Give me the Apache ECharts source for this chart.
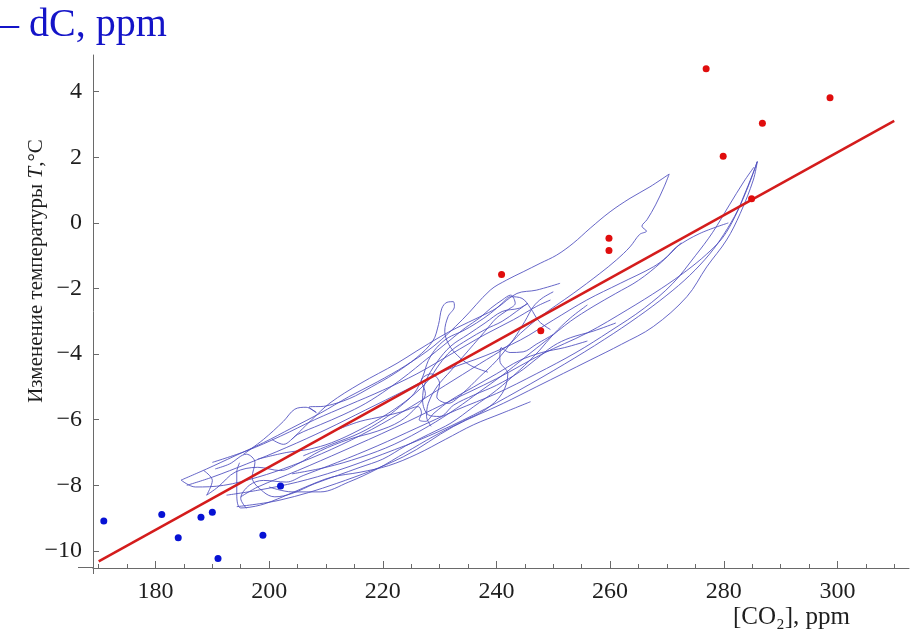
<!DOCTYPE html>
<html><head><meta charset="utf-8">
<script src="https://cdn.jsdelivr.net/npm/echarts@6/dist/echarts.min.js"></script>
<style>html,body{margin:0;padding:0;background:#fff}#c{width:910px;height:633px}</style>
</head><body><div id="c"></div>
<script>
var xTicks = [180, 200, 220, 240, 260, 280, 300];
var xMinorTicks = [170,175,185,190,195,205,210,215,225,230,235,245,250,255,265,270,275,285,290,295,305,310];
var yTicks = [-10, -8, -6, -4, -2, 0, 2, 4];

var redPoints = [[276.9,4.70],[298.7,3.82],[286.8,3.04],[279.9,2.03],[284.9,0.74],[259.8,-0.47],[259.8,-0.84],[240.9,-1.57],[247.8,-3.29]];
var bluePoints = [[170.9,-9.09],[181.1,-8.89],[184.0,-9.60],[188.0,-8.97],[190.0,-8.82],[191.0,-10.23],[198.9,-9.52],[202.0,-8.02]];
var fitLine = [[170,-10.32],[310,3.11]];

var strand1 = [[184.5,-7.84],[189,-7.5],[194,-7.1],[199,-6.7],[204,-6.25],[209,-5.8],[214,-5.3],[219,-4.85],[224,-4.35],[229,-3.75],[234,-2.95],[238.9,-2.05],[241.8,-1.74],[244.7,-1.49],[247.7,-1.23],[250.6,-0.98],[253.5,-0.62],[256.5,-0.16],[260,0.34],[263.5,0.75],[267,1.1],[270.4,1.49],[269.5,1.1],[268,0.55],[266.5,0.1],[265.6,-0.1],[266.4,-0.25],[265.2,-0.35],[263.5,-0.73],[261.1,-1.13],[258.2,-1.54],[253.5,-2.15],[247.7,-2.86],[244.2,-3.37],[241.8,-3.77],[237,-4.3],[231,-4.95],[225,-5.6],[218,-6.3],[211,-6.9],[204,-7.4],[198,-7.75],[192,-8.0],[187,-8.05],[184.5,-7.84]];
var strand2 = [[185.5,-8.0],[190,-7.75],[196,-7.35],[203,-6.85],[210,-6.3],[217,-5.7],[224,-5.1],[231,-4.5],[238,-4.05],[244.2,-3.57],[250,-2.96],[255.9,-2.35],[261.8,-1.84],[267.6,-1.34],[270,-1.03],[271.7,-0.73],[275.8,-0.32],[280.8,0.0]];
var strand3 = [[194.3,-8.65],[201.9,-8.45],[211.9,-7.94],[223.6,-7.13],[232.4,-6.21],[241.2,-5.5],[247.1,-4.99],[256.5,-4.18],[262,-3.7],[267.6,-3.16],[273.5,-2.25],[277,-1.34],[280.5,-0.52],[282.9,0.29],[285.2,1.31],[285.9,1.87],[285,1.45],[283.6,0.85],[282,0.2],[279.8,-0.45],[277,-0.95],[273.5,-1.45],[269,-2.0],[263,-2.65],[256,-3.35],[248,-4.0],[240,-4.75],[231,-5.5],[222,-6.25],[213,-6.95],[205,-7.55],[198,-8.05],[195,-8.35]];
var strand4 = [[204,-6.6],[207.5,-6.0],[210.7,-5.49],[216,-4.9],[222.5,-4.28],[226,-3.9],[230.1,-3.47],[233,-3.2],[237.1,-2.86],[240,-2.6],[243.6,-2.15],[247,-2.05],[251.2,-1.84]];
var strand5 = [[195.5,-7.05],[199,-6.6],[202.5,-6.05],[204.5,-5.68],[206.5,-5.62],[208.3,-5.78],[207,-5.62],[210,-5.58],[214.2,-5.35],[218,-5.0],[222,-4.6],[226,-4.1],[228.8,-3.6],[229.8,-3.1],[230.4,-2.6],[231.3,-2.42],[232.4,-2.4],[232.6,-2.55],[231.5,-2.85],[230.9,-3.3],[231.6,-3.7],[233.2,-4.05],[235.5,-4.35],[238.5,-4.55]];
var strand6 = [[192.5,-8.3],[198,-8.15],[205,-7.9],[212,-7.55],[220,-7.05],[228,-6.5],[236,-5.85],[244,-5.1],[252,-4.3],[259,-3.55],[265,-2.85],[270,-2.2],[274,-1.6],[277.5,-0.95],[280,-0.35],[282.5,0.4],[284.5,1.2],[285.9,1.87]];
var strand7 = [[196,-8.7],[195,-8.4],[196.5,-8.0],[199,-7.85],[203,-7.9],[206,-7.7],[212,-7.3],[219,-6.8],[226,-6.25],[233,-5.7],[240,-5.2],[247,-4.6],[254,-3.95],[260,-3.3],[266,-2.6],[271,-1.85],[275,-1.0],[278,-0.3],[281,0.55],[283.5,1.25],[285.3,1.7]];
var strand8 = [[188.5,-7.55],[190,-7.85],[189,-8.3],[191,-8.05],[194,-7.6],[198,-7.45],[202,-7.55],[205,-7.35],[209,-6.95],[214,-6.6],[219,-6.35],[223,-6.05],[226,-5.6],[227.5,-5.2],[226.8,-4.8],[228.5,-4.6],[230,-4.9],[229.5,-5.3],[231.5,-5.5],[234,-5.2],[237,-4.7],[240,-4.2],[243,-3.55],[245,-3.0],[246.5,-2.55],[248,-2.3],[250,-2.1]];
var strand9 = [[198,-7.2],[203,-7.0],[207,-6.9],[211,-6.7],[216,-6.3],[221,-5.8],[225,-5.3],[228,-4.8],[230,-4.3],[232,-3.9],[235,-3.55],[238,-3.25],[241,-3.0],[243.5,-2.7],[245.5,-2.45],[244,-2.6],[241,-2.7],[238,-3.05],[235,-3.4],[232,-3.75],[229.5,-4.25],[227.5,-4.85],[227,-5.4],[228,-5.85],[230,-5.9],[232.5,-5.55],[236,-5.25],[240,-4.95],[244,-4.55],[247,-4.15],[250,-3.75],[253,-3.5],[257,-3.3],[261,-3.05]];
var strand10 = [[200,-8.05],[204,-8.2],[209,-8.2],[214,-7.9],[219,-7.5],[224,-7.0],[229,-6.5],[234,-6.05],[238,-5.7],[241,-5.2],[242,-4.6],[240.6,-4.2],[240.8,-3.8],[242.4,-3.95],[244.7,-3.93],[247,-3.7],[250,-3.4]];
var strand11 = [[200.5,-6.6],[202.5,-6.75],[205,-6.45],[209,-6.15],[213,-5.85],[217,-5.5],[221,-5.05],[224.5,-4.6],[227,-4.25],[229.5,-3.9],[232,-3.55],[234.5,-3.2],[237,-2.9],[239,-2.6],[241,-2.35],[242.5,-2.2],[243.3,-2.45],[242,-2.65],[240,-2.9],[238,-3.3],[236,-3.7],[234,-4.1],[232,-4.5],[229.5,-5.0],[228,-5.5],[227.7,-5.9],[228.5,-6.2]];
var strand12 = [[190.5,-7.5],[193,-7.35],[196,-7.05],[197.5,-7.3],[197,-7.75],[199,-8.2],[201,-8.35],[204,-8.25],[208,-7.95],[212,-7.7],[216,-7.45],[220,-7.2],[224,-6.8],[228,-6.45],[232,-6.1],[236,-5.6],[240,-5.1],[244,-4.5],[247.5,-3.9],[250,-3.4],[253,-2.9],[256,-2.5]];
var strand13 = [[206,-7.1],[211,-6.75],[216,-6.4],[220,-6.0],[223,-5.6],[225.5,-5.2],[227,-4.7],[228,-4.2],[229.5,-3.8],[231.5,-3.5],[234,-3.3],[236.5,-3.05],[239,-2.75],[241,-2.45],[242.5,-2.25],[244.5,-2.3],[246,-2.6],[247.5,-3.0],[249.5,-3.25]];
var strand14 = [[190,-7.3],[196,-6.95],[202,-6.5],[208,-6.0],[214,-5.55],[220,-5.1],[226,-4.6],[232,-4.0],[238,-3.4],[243,-2.95],[247,-2.55],[249.5,-2.35]];
var strand15 = [[204,-7.65],[210,-7.45],[216,-7.15],[222,-6.75],[228,-6.2],[233,-5.65],[237,-5.15],[241,-4.65],[245,-4.1],[249,-3.55],[253,-3.0],[257,-2.55],[261,-2.15],[265,-1.75],[269,-1.2],[272.5,-0.6]];
var strand16 = [[212,-6.3],[216,-6.05],[220,-5.9],[223.5,-5.75],[226.2,-5.6],[226.8,-5.8],[226.4,-6.0],[227.5,-6.05],[229,-5.8],[232,-5.4],[236,-5.0],[240,-4.6],[244,-4.2],[248,-3.95],[252,-3.8],[256,-3.6]];
var strand17 = [[194.8,-7.31],[194.3,-7.6],[194.3,-8.29],[195,-8.69],[198.5,-8.6],[202.4,-8.35],[206.4,-8.05],[211,-7.75],[216,-7.6],[221,-7.4],[226,-7.05],[231,-6.6],[236,-6.15],[241,-5.8],[246,-5.45]];
var strands = [strand1, strand2, strand3, strand4, strand5, strand6, strand7, strand8, strand9, strand10, strand11, strand12, strand13, strand14, strand15, strand16, strand17];

var chart = echarts.init(document.getElementById('c'), null, {renderer: 'canvas'});
var FONT = '"Liberation Serif", "Times New Roman", serif';
var axisCol = '#6a6a6a';
var series = [];
strands.forEach(function (s) {
  series.push({type: 'line', data: s, showSymbol: false, smooth: 0.35, silent: true, z: 2,
    lineStyle: {color: '#4b4bbd', width: 1, opacity: 0.85}});
});
series.push({type: 'line', data: fitLine, showSymbol: false, silent: true, z: 3,
  lineStyle: {color: '#d41c1c', width: 2.5}});
series.push({type: 'scatter', data: redPoints, symbolSize: 7, z: 4, itemStyle: {color: '#e00d0d', opacity: 1}});
series.push({type: 'scatter', data: bluePoints, symbolSize: 7, z: 4, itemStyle: {color: '#0712d4', opacity: 1}});

chart.setOption({
  animation: false,
  backgroundColor: '#fff',
  grid: {left: 93, right: 1, top: 55, bottom: 65, containLabel: false},
  xAxis: [{
    type: 'value', min: 169, max: 312.6, position: 'bottom',
    axisLine: {show: true, onZero: false, lineStyle: {color: axisCol, width: 1}},
    axisTick: {show: true, inside: true, length: 7, customValues: xTicks, lineStyle: {color: axisCol}},
    axisLabel: {show: true, customValues: xTicks, fontFamily: FONT, fontSize: 24, color: '#1e1e1e', margin: 12},
    splitLine: {show: false}
  }, {
    type: 'value', min: 169, max: 312.6, position: 'bottom', offset: 0,
    axisLine: {show: false, onZero: false},
    axisTick: {show: true, inside: true, length: 4, customValues: xMinorTicks, lineStyle: {color: axisCol}},
    axisLabel: {show: false},
    splitLine: {show: false}
  }],
  yAxis: {
    type: 'value', min: -10.52, max: 5.12,
    axisLine: {show: true, onZero: false, lineStyle: {color: axisCol, width: 1}},
    axisTick: {show: true, inside: true, length: 6, customValues: yTicks, lineStyle: {color: axisCol}},
    axisLabel: {show: true, customValues: yTicks, fontFamily: FONT, fontSize: 24, color: '#1e1e1e', margin: 11,
      formatter: function (v) { return v < 0 ? '\u2212' + Math.abs(v) : String(v); }},
    splitLine: {show: false}
  },
  series: series,
  graphic: [
    {type: 'text', left: -1, top: 5, silent: true,
      style: {text: '\u2013 dC, ppm', font: '40px ' + FONT, fill: '#1414c8'}},
    {type: 'text', x: 36, y: 271, rotation: Math.PI / 2, silent: true,
      style: {text: '{n|Изменение температуры }{i|T}{n|,°C}', align: 'center', verticalAlign: 'middle',
        rich: {n: {fontFamily: FONT, fontSize: 21, fill: '#1e1e1e'}, i: {fontFamily: FONT, fontSize: 21, fontStyle: 'italic', fill: '#1e1e1e'}}}},
    {type: 'text', x: 733, y: 617, silent: true,
      style: {text: '[CO\u2082], ppm', font: '25px ' + FONT, fill: '#1e1e1e', verticalAlign: 'middle'}},
    {type: 'line', silent: true, shape: {x1: 78, y1: 567.5, x2: 93, y2: 567.5}, style: {stroke: axisCol, lineWidth: 1}},
    {type: 'line', silent: true, shape: {x1: 93.5, y1: 567, x2: 93.5, y2: 574}, style: {stroke: axisCol, lineWidth: 1}}
  ]
});
</script></body></html>
